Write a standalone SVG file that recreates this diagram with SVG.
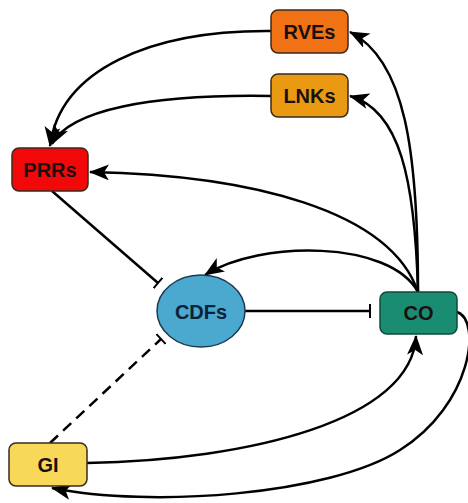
<svg xmlns="http://www.w3.org/2000/svg" width="468" height="503" viewBox="0 0 468 503">
<style>
.n{stroke:#3a2a1a;stroke-width:1.5}
.t{font-family:"Liberation Sans",Arial,sans-serif;font-weight:bold;font-size:20px;fill:#1a1010;text-anchor:middle;dominant-baseline:central}
.e{fill:none;stroke:#000;stroke-width:2.5}
.a{marker-end:url(#arr)}
.b{marker-end:url(#bar)}
</style>
<defs>
<marker id="arr" markerUnits="userSpaceOnUse" markerWidth="20" markerHeight="16" viewBox="0 0 20 16" refX="19" refY="8" orient="auto">
<path d="M0,0 L20,8 L0,16 L5,8 Z" fill="#000"/>
</marker>
<marker id="bar" markerUnits="userSpaceOnUse" markerWidth="4" markerHeight="14" viewBox="0 0 4 14" refX="2" refY="7" orient="auto">
<line x1="2" y1="0" x2="2" y2="14" stroke="#000" stroke-width="2"/>
</marker>
</defs>
<g id="connectors">
<path class="e a" d="M418,292 C418,150 405,60 350,32"/>
<path class="e a" d="M418,292 C415,180 400,110 350,96"/>
<path class="e a" d="M418,292 C390,210 250,175 90,172"/>
<path class="e a" d="M418,292 C390,240 260,240 205,275"/>
<path class="e a" d="M271,31 C150,30 60,70 50,146"/>
<path class="e a" d="M271,96 C150,94 70,110 52,144"/>
<path class="e b" d="M52,191 L158,283"/>
<path class="e b" d="M245,311 L370,311"/>
<path class="e b" d="M50,443 L161,339" stroke-dasharray="11,7"/>
<path class="e a" d="M87,463 C250,460 412,420 416,336"/>
<path class="e a" d="M457,312 C482,320 472,405 400,450 C330,495 150,508 52,488"/>
</g>
<g id="RVEs"><rect class="n" x="271" y="10" width="77" height="43" rx="7" fill="#F07214"/><text class="t" x="309.5" y="32">RVEs</text></g>
<g id="LNKs"><rect class="n" x="271" y="74" width="77" height="43" rx="7" fill="#EA9A12"/><text class="t" x="309.5" y="96">LNKs</text></g>
<g id="PRRs"><rect class="n" x="12" y="148" width="76" height="43" rx="7" fill="#F20808"/><text class="t" x="50" y="170">PRRs</text></g>
<g id="CDFs"><ellipse cx="201" cy="311" rx="44" ry="36" fill="#4BA8CF" stroke="#1a3a50" stroke-width="1.5"/><text class="t" x="201" y="312" style="fill:#0c2236">CDFs</text></g>
<g id="CO"><rect x="380" y="292" width="77" height="42" rx="7" fill="#1A8C72" stroke="#0f4a3a" stroke-width="1.5"/><text class="t" x="418.5" y="313">CO</text></g>
<g id="GI"><rect class="n" x="9" y="443" width="78" height="43" rx="7" fill="#F8D858"/><text class="t" x="48" y="465">GI</text></g>
</svg>
